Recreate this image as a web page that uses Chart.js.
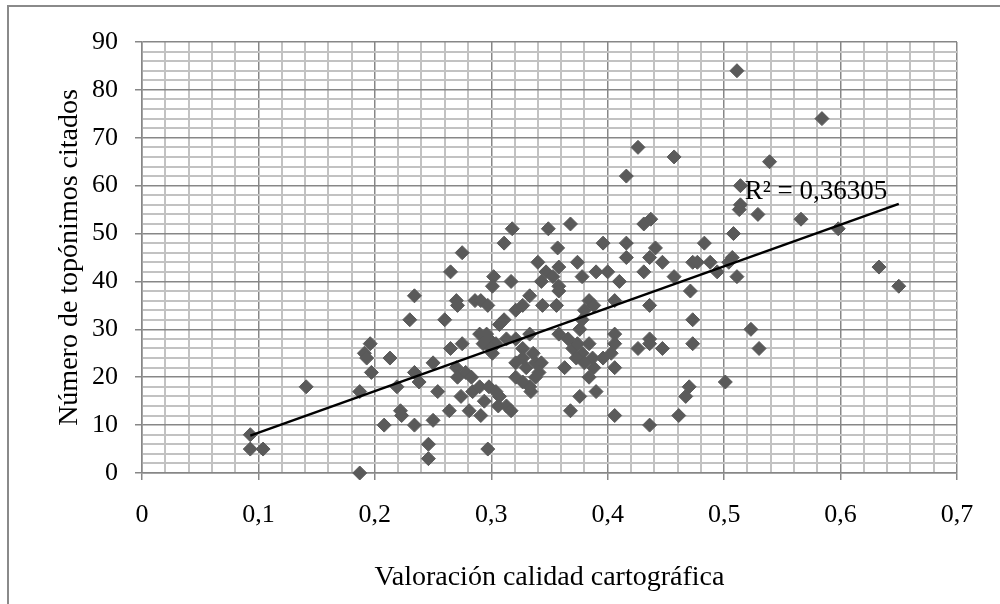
<!DOCTYPE html>
<html>
<head>
<meta charset="utf-8">
<script src="https://cdn.jsdelivr.net/npm/chart.js@4.4.1/dist/chart.umd.min.js"></script>
<style>
  html, body { margin: 0; padding: 0; background: #fff; overflow: hidden; }
  #marco { position: absolute; left: 7px; top: 5px; width: 1100px; height: 700px; border-left: 2px solid #8a8a8a; border-top: 2px solid #8a8a8a; }
  #grafico { position: absolute; left: 0; top: 0; }
</style>
</head>
<body>
<div id="marco"></div>
<canvas id="grafico" width="1000" height="604"></canvas>
<script>
// valoración (x) y número de topónimos (y)
const valoracion = [
  0.093, 0.093, 0.104, 0.141, 0.187, 0.187, 0.196, 0.191, 0.193, 0.197,
  0.213, 0.208, 0.219, 0.222, 0.223, 0.230, 0.260, 0.311, 0.265, 0.275,
  0.296, 0.298, 0.304, 0.290, 0.313, 0.307, 0.301, 0.321, 0.327, 0.327,
  0.338, 0.343, 0.333, 0.321, 0.330, 0.338, 0.334, 0.250, 0.234, 0.238,
  0.254, 0.270, 0.271, 0.278, 0.284, 0.290, 0.298, 0.304, 0.307, 0.274,
  0.281, 0.291, 0.264, 0.294, 0.306, 0.313, 0.317, 0.250, 0.234, 0.246,
  0.246, 0.297, 0.341, 0.333, 0.321, 0.293, 0.300, 0.283, 0.327, 0.336,
  0.318, 0.349, 0.311, 0.357, 0.275, 0.265, 0.302, 0.317, 0.301, 0.340,
  0.347, 0.353, 0.343, 0.234, 0.270, 0.271, 0.286, 0.291, 0.297, 0.333,
  0.327, 0.344, 0.321, 0.356, 0.426, 0.457, 0.416, 0.368, 0.431, 0.437,
  0.396, 0.416, 0.483, 0.416, 0.441, 0.436, 0.447, 0.374, 0.358, 0.390,
  0.400, 0.431, 0.473, 0.477, 0.488, 0.494, 0.504, 0.378, 0.410, 0.457,
  0.358, 0.358, 0.471, 0.406, 0.384, 0.388, 0.380, 0.436, 0.473, 0.358,
  0.376, 0.378, 0.370, 0.374, 0.384, 0.378, 0.373, 0.363, 0.387, 0.396,
  0.406, 0.406, 0.403, 0.406, 0.384, 0.390, 0.376, 0.368, 0.406, 0.426,
  0.436, 0.436, 0.447, 0.473, 0.436, 0.470, 0.467, 0.461, 0.501, 0.366,
  0.380, 0.388, 0.511, 0.584, 0.539, 0.514, 0.514, 0.513, 0.529, 0.566,
  0.598, 0.508, 0.523, 0.530, 0.633, 0.650, 0.511, 0.507
];
const toponimos = [
  8, 5, 5, 18, 17, 0, 27, 25, 24, 21,
  24, 10, 18, 13, 12, 32, 32, 32, 26, 27,
  29, 28, 27, 29, 28, 31, 25, 28, 26, 24,
  23, 23, 29, 20, 22, 20, 17, 23, 21, 19,
  17, 22, 20, 21, 17, 18, 18, 17, 16, 16,
  13, 12, 13, 15, 14, 14, 13, 11, 10, 6,
  3, 5, 21, 18, 23, 27, 26, 20, 19, 25,
  51, 51, 48, 47, 46, 42, 41, 40, 39, 44,
  42, 41, 40, 37, 36, 35, 36, 36, 35, 37,
  35, 35, 34, 35, 68, 66, 62, 52, 52, 53,
  48, 48, 48, 45, 47, 45, 44, 44, 43, 42,
  42, 42, 44, 44, 44, 42, 44, 41, 40, 41,
  39, 38, 38, 36, 36, 35, 34, 35, 32, 29,
  30, 32, 26, 27, 27, 25, 24, 22, 24, 24,
  29, 27, 25, 22, 20, 17, 16, 13, 12, 26,
  28, 27, 26, 27, 10, 18, 16, 12, 19, 28,
  23, 22, 84, 74, 65, 60, 56, 55, 54, 53,
  51, 50, 30, 26, 43, 39, 41, 45
];

// línea de tendencia lineal (extremos)
const tendenciaX = [0.093, 0.650];
const tendenciaY = [7.8, 56.2];
const textoR2 = 'R² = 0,36305';

const etiquetasX = ['0', '0,1', '0,2', '0,3', '0,4', '0,5', '0,6', '0,7'];
const etiquetasY = ['0', '10', '20', '30', '40', '50', '60', '70', '80', '90'];

const fuente = 'Liberation Serif';
const gris = '#5a5a5a';

const puntos = valoracion.map((v, i) => ({ x: v, y: toponimos[i] }));
const tendencia = tendenciaX.map((v, i) => ({ x: v, y: tendenciaY[i] }));

const esMayor = (ctx) => ctx.index % 5 === 0;

const rotuloR2 = {
  id: 'rotuloR2',
  afterDatasetsDraw(chart) {
    const c = chart.ctx;
    const sx = chart.scales.x, sy = chart.scales.y;
    c.save();
    c.font = '27px "' + fuente + '"';
    c.fillStyle = '#000';
    c.textAlign = 'left';
    c.textBaseline = 'middle';
    c.fillText(textoR2, sx.getPixelForValue(0.5176), sy.getPixelForValue(58.8));
    c.restore();
  }
};

const canva = document.getElementById('grafico');
window.myChart = new Chart(canva, {
  type: 'scatter',
  data: {
    datasets: [{
      type: 'line',
      data: tendencia,
      borderColor: '#000',
      borderWidth: 2.5,
      pointRadius: 0,
      fill: false
    }, {
      data: puntos,
      pointStyle: 'rectRot',
      pointRadius: 7,
      pointBorderWidth: 1,
      backgroundColor: gris,
      borderColor: gris,
      clip: false
    }]
  },
  options: {
    responsive: false,
    animation: false,
    devicePixelRatio: 1,
    layout: { padding: { left: 0, top: 42, right: 43, bottom: 0 } },
    plugins: { legend: { display: false }, tooltip: { enabled: false } },
    scales: {
      x: {
        type: 'linear',
        min: 0,
        max: 0.7,
        afterFit: (s) => { s.height = 131; },
        ticks: {
          stepSize: 0.02,
          autoSkip: false,
          maxRotation: 0,
          padding: 20,
          color: '#000',
          font: { family: fuente, size: 26 },
          callback: (v, i) => (i % 5 === 0 ? etiquetasX[i / 5] : '')
        },
        grid: {
          color: (ctx) => (esMayor(ctx) ? '#878787' : '#c2c2c2'),
          lineWidth: (ctx) => (esMayor(ctx) ? 1.5 : 2),
          tickLength: 7,
          tickColor: (ctx) => (esMayor(ctx) ? '#878787' : 'rgba(0,0,0,0)'),
          tickWidth: 1.5
        },
        border: { color: '#878787', width: 1.5 },
        title: {
          display: true,
          text: 'Valoración calidad cartográfica',
          color: '#000',
          font: { family: fuente, size: 28 },
          padding: { top: 0, bottom: 10 }
        }
      },
      y: {
        min: 0,
        max: 90,
        afterFit: (s) => { s.width = 142; },
        ticks: {
          stepSize: 2,
          autoSkip: false,
          padding: 17,
          color: '#000',
          font: { family: fuente, size: 26 },
          callback: (v, i) => (i % 5 === 0 ? etiquetasY[i / 5] : '')
        },
        grid: {
          color: (ctx) => (esMayor(ctx) ? '#878787' : '#c2c2c2'),
          lineWidth: (ctx) => (esMayor(ctx) ? 1.5 : 2),
          tickLength: 7,
          tickColor: (ctx) => (esMayor(ctx) ? '#878787' : 'rgba(0,0,0,0)'),
          tickWidth: 1.5
        },
        border: { color: '#878787', width: 1.5 },
        title: {
          display: true,
          text: 'Número de topónimos citados',
          color: '#000',
          font: { family: fuente, size: 28 },
          padding: { top: 53, bottom: 0 }
        }
      }
    }
  },
  plugins: [rotuloR2]
});
</script>
</body>
</html>
